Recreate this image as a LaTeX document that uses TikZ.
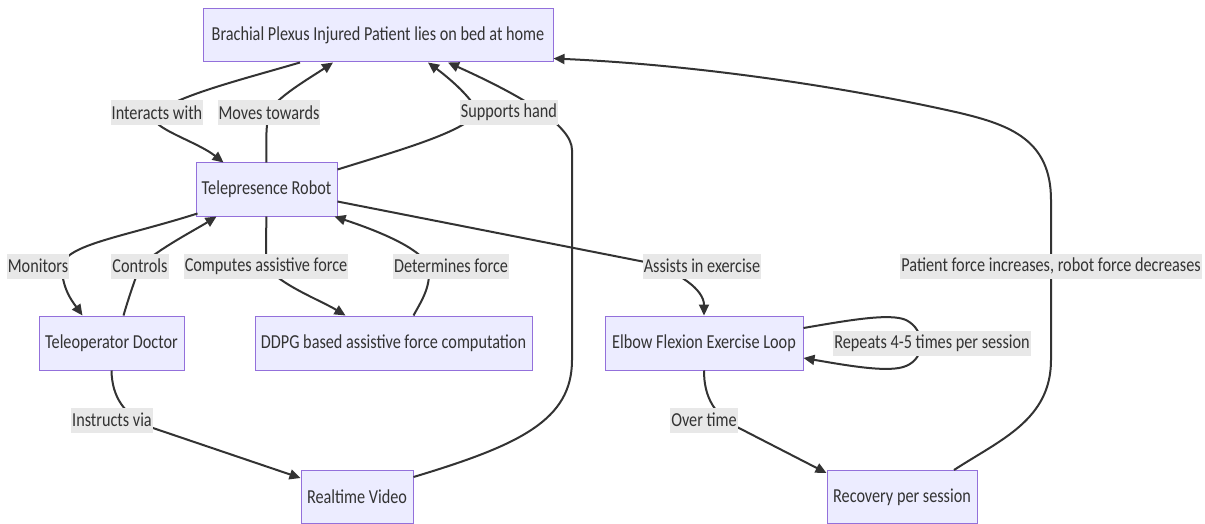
\documentclass[tikz,border=0pt]{standalone}
\usepackage{fontspec}
\setmainfont{Carlito}[FakeStretch=0.82]
\usetikzlibrary{arrows.meta}
\definecolor{nodefill}{HTML}{ECECFF}
\definecolor{nodeline}{HTML}{9370DB}
\definecolor{edgec}{HTML}{333333}
\definecolor{lblfill}{HTML}{E8E8E8}
\begin{document}
\begin{tikzpicture}[x=1pt,y=-1pt,
  box/.style={draw=nodeline, line width=1pt, fill=nodefill, inner sep=0pt, text=edgec, font=\fontsize{19.8}{23}\selectfont},
  lbl/.style={fill=lblfill, inner xsep=1pt, inner ysep=0pt, minimum height=25pt, text=edgec, font=\fontsize{19.8}{23}\selectfont},
  edge/.style={draw=edgec, line width=2pt, -{Triangle[length=11pt,width=10pt]}}
]
\useasboundingbox (0,0) rectangle (1205,524);
\fill[white] (0,0) rectangle (1205,524);
% nodes
\node[box, minimum width=350pt, minimum height=53pt] (P) at (378,35.5) {Brachial Plexus Injured Patient lies on bed at home};
\node[box, minimum width=141pt, minimum height=53pt] (R) at (266.5,189.5) {Telepresence Robot};
\node[box, minimum width=145pt, minimum height=54pt] (D) at (111.5,343) {Teleoperator Doctor};
\node[box, minimum width=277pt, minimum height=54pt] (Q) at (393.5,343) {DDPG based assistive force computation};
\node[box, minimum width=198pt, minimum height=54pt] (E) at (704,343) {Elbow Flexion Exercise Loop};
\node[box, minimum width=112pt, minimum height=53pt] (V) at (357,497) {Realtime Video};
\node[box, minimum width=150pt, minimum height=53pt] (S) at (902,497) {Recovery per session};
% label positions
\coordinate (c1) at (157,112.5);
\coordinate (c2) at (269,112.5);
\coordinate (c3) at (509,112.5);
\coordinate (c5) at (38,266);
\coordinate (c6) at (140,266);
\coordinate (c7) at (266,266);
\coordinate (c8) at (451,266);
\coordinate (c9) at (702,266);
\coordinate (c13) at (1051,266);
\coordinate (c10) at (932,343);
\coordinate (c11) at (112,420);
\coordinate (c12) at (704,420);
% edges
\draw[edge] ([xshift=-78pt]P.south) .. controls (240,80) and (180,95) .. (c1) .. controls (140,125) and (195,140) .. ([xshift=-43pt]R.north);
\draw[edge] (R.north) .. controls (266,140) and (266,125) .. (c2) .. controls (275,98) and (310,78) .. ([xshift=-45pt]P.south);
\draw[edge] ([yshift=-7pt]R.north east) .. controls (400,150) and (465,132) .. (478,112) .. controls (470,95) and (445,75) .. ([xshift=50pt]P.south);
\draw[edge] ([yshift=-7pt]V.north east) .. controls (520,445) and (572,420) .. (572,360) -- (572,150) .. controls (572,125) and (520,95) .. ([xshift=70pt]P.south);
\draw[edge] ([xshift=2pt,yshift=3pt]R.south west) .. controls (120,238) and (62,245) .. (62,268) .. controls (62,290) and (75,305) .. ([xshift=-29pt]D.north);
\draw[edge] ([xshift=12pt]D.north) .. controls (128,300) and (133,285) .. (c6) .. controls (160,248) and (195,230) .. ([xshift=-50pt]R.south);
\draw[edge] (R.south) .. controls (266,235) and (266,250) .. (c7) .. controls (280,285) and (320,300) .. ([xshift=-48pt]Q.north);
\draw[edge] ([xshift=20pt]Q.north) .. controls (422,300) and (432,285) .. (428,266) .. controls (420,245) and (360,225) .. ([xshift=-3pt]R.south east);
\draw[edge] ([yshift=-12pt]R.east) -- (645,262) .. controls (680,272) and (704,290) .. (E.north);
\draw[edge] ([yshift=15pt]E.east) .. controls (850,320) and (890,313) .. (906,320) .. controls (926,330) and (926,358) .. (906,366) .. controls (890,373) and (850,366) .. ([yshift=-15pt]E.east);
\draw[edge] (D.south) .. controls (112,398) and (125,415) .. (150,427) -- ([yshift=-8pt]V.north west);
\draw[edge] (E.south) .. controls (704,398) and (715,415) .. (737,427) -- ([yshift=-3pt]S.north west);
\draw[edge] ([xshift=52pt]S.north) .. controls (1000,440) and (1051,420) .. (1051,360) -- (1051,200) .. controls (1051,140) and (1010,125) .. (960,113) .. controls (850,88) and (700,65) .. ([yshift=4pt]P.south east);
% labels
\node[lbl] (t1) at (c1) {Interacts with};
\node[lbl] (t2) at (c2) {Moves towards};
\node[lbl] (t3) at (c3) {Supports hand};
\node[lbl] (t5) at (c5) {Monitors};
\node[lbl] (t6) at (c6) {Controls};
\node[lbl] (t7) at (c7) {Computes assistive force};
\node[lbl] (t8) at (c8) {Determines force};
\node[lbl] (t9) at (c9) {Assists in exercise};
\node[lbl] (t13) at (c13) {Patient force increases, robot force decreases};
\node[lbl] (t10) at (c10) {Repeats 4-5 times per session};
\node[lbl] (t11) at (c11) {Instructs via};
\node[lbl] (t12) at (c12) {Over time};
\end{tikzpicture}
\end{document}
